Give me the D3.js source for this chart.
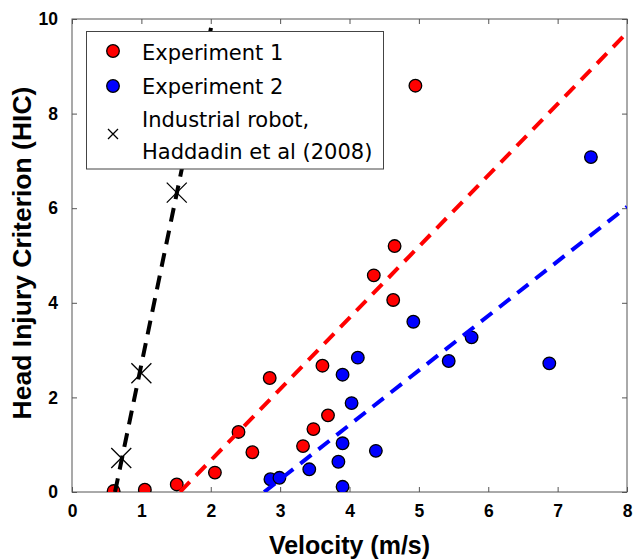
<!DOCTYPE html>
<html><head><meta charset="utf-8">
<script src="https://cdn.jsdelivr.net/npm/d3@7"></script>
<style>html,body{margin:0;padding:0;background:#fff;}</style>
</head><body>
<script>
// ---- data ----
const exp1Velocity = [0.60, 1.05, 1.51, 2.06, 2.40, 2.60, 2.85, 3.33, 3.48, 3.61, 3.69, 4.35, 4.63, 4.65, 4.95];
const exp1HIC      = [0.02, 0.05, 0.16, 0.41, 1.27, 0.84, 2.41, 0.97, 1.33, 2.67, 1.62, 4.58, 4.06, 5.20, 8.59];
const exp2Velocity = [2.86, 2.99, 3.42, 3.84, 3.90, 3.90, 3.90, 4.03, 4.12, 4.38, 4.92, 5.43, 5.76, 6.88, 7.48];
const exp2HIC      = [0.27, 0.30, 0.48, 0.64, 0.11, 1.03, 2.48, 1.88, 2.84, 0.87, 3.60, 2.77, 3.27, 2.72, 7.08];
const robotVelocity = [0.71, 1.00, 1.51];
const robotHIC      = [0.72, 2.51, 6.33];
const fit1Velocity = [1.556, 8.0];
const fit1HIC      = [0.0, 9.71];
const fit2Velocity = [2.77, 8.0];
const fit2HIC      = [0.0, 6.03];
const fitRobotVelocity = [0.62, 2.03];
const fitRobotHIC      = [0.0, 10.0];
const xTicks = [0, 1, 2, 3, 4, 5, 6, 7, 8];
const yTicks = [0, 2, 4, 6, 8, 10];
const legendLabels = ["Experiment 1", "Experiment 2", ["Industrial robot,", "Haddadin et al (2008)"]];
const xTitle = "Velocity (m/s)";
const yTitle = "Head Injury Criterion (HIC)";

// ---- layout ----
const W = 633, H = 560;
const L = 72, R = 627, T = 19, B = 492;
const svg = d3.select("body").append("svg").attr("width", W).attr("height", H)
  .style("font-family", "'Liberation Sans', Arial, sans-serif");
svg.append("rect").attr("width", W).attr("height", H).attr("fill", "#fff");

const x = d3.scaleLinear().domain([0, 8]).range([L, R]);
const y = d3.scaleLinear().domain([0, 10]).range([B, T]);
const axisColor = "#555";

svg.append("defs").append("clipPath").attr("id", "clip")
  .append("rect").attr("x", L).attr("y", T).attr("width", R - L).attr("height", B - T);

// axes
function styleAxis(g) {
  g.attr("font-family", "'Liberation Sans', Arial, sans-serif").attr("font-size", 17).attr("font-weight", "bold");
  g.select(".domain").remove();
  g.selectAll(".tick line").attr("stroke", axisColor).attr("stroke-width", 1);
  g.selectAll(".tick text").attr("fill", "#000").attr("font-weight", "bold").style("font-weight", "bold").style("font-size", "17.5px");
}
svg.append("g").attr("transform", `translate(0,${B})`)
  .call(d3.axisBottom(x).tickValues(xTicks).tickFormat(d3.format("d")).tickSizeInner(-5).tickSizeOuter(0).tickPadding(13))
  .call(styleAxis);
svg.append("g").attr("transform", `translate(0,${T})`)
  .call(d3.axisTop(x).tickValues(xTicks).tickFormat("").tickSizeInner(-5).tickSizeOuter(0))
  .call(styleAxis);
svg.append("g").attr("transform", `translate(${L},0)`)
  .call(d3.axisLeft(y).tickValues(yTicks).tickFormat(d3.format("d")).tickSizeInner(-5).tickSizeOuter(0).tickPadding(14))
  .call(styleAxis);
svg.append("g").attr("transform", `translate(${R},0)`)
  .call(d3.axisRight(y).tickValues(yTicks).tickFormat("").tickSizeInner(-5).tickSizeOuter(0))
  .call(styleAxis);
svg.append("rect").attr("x", L).attr("y", T).attr("width", R - L).attr("height", B - T)
  .attr("fill", "none").attr("stroke", axisColor).attr("stroke-width", 1);

// titles
svg.append("text").attr("x", (L + R) / 2).attr("y", 554).attr("text-anchor", "middle")
  .style("font-weight", "bold").style("font-size", "25px").text(xTitle);
svg.append("text").attr("transform", `translate(31,253) rotate(-90)`).attr("text-anchor", "middle")
  .style("font-weight", "bold").style("font-size", "26.5px").text(yTitle);

const plot = svg.append("g").attr("clip-path", "url(#clip)");

// points
function dots(vs, hs, color) {
  plot.append("g").selectAll("circle").data(vs.map((v, i) => [v, hs[i]])).join("circle")
    .attr("cx", d => x(d[0])).attr("cy", d => y(d[1])).attr("r", 6.3)
    .attr("fill", color).attr("stroke", "#000").attr("stroke-width", 1.3);
}
dots(exp1Velocity, exp1HIC, "#ff0000");
dots(exp2Velocity, exp2HIC, "#0000ff");

// X markers
const xs = 10;
plot.append("g").selectAll("path").data(robotVelocity.map((v, i) => [v, robotHIC[i]])).join("path")
  .attr("d", d => { const cx = x(d[0]), cy = y(d[1]);
    return `M${cx - xs},${cy - xs}L${cx + xs},${cy + xs}M${cx - xs},${cy + xs}L${cx + xs},${cy - xs}`; })
  .attr("stroke", "#000").attr("stroke-width", 1.3).attr("fill", "none");

// fit lines
const line = d3.line().x(d => x(d[0])).y(d => y(d[1]));
function fit(vs, hs, color) {
  plot.append("path").datum(vs.map((v, i) => [v, hs[i]])).attr("d", line)
    .attr("stroke", color).attr("stroke-width", 4).attr("fill", "none")
    .attr("stroke-dasharray", "14,9");
}
fit(fitRobotVelocity, fitRobotHIC, "#000");
fit(fit1Velocity, fit1HIC, "#ff0000");
fit(fit2Velocity, fit2HIC, "#0000ff");

// legend
const lg = svg.append("g").style("font-family", "'DejaVu Sans', Verdana, sans-serif").style("font-size", "21px");
lg.append("rect").attr("x", 86.5).attr("y", 31.5).attr("width", 297).attr("height", 137.5)
  .attr("fill", "#fff").attr("stroke", "#444").attr("stroke-width", 1);
lg.append("circle").attr("cx", 113).attr("cy", 51).attr("r", 6.3).attr("fill", "#ff0000").attr("stroke", "#000").attr("stroke-width", 1.3);
lg.append("circle").attr("cx", 113).attr("cy", 86).attr("r", 6.3).attr("fill", "#0000ff").attr("stroke", "#000").attr("stroke-width", 1.3);
lg.append("path").attr("d", "M108,129L118,139M108,139L118,129").attr("stroke", "#000").attr("stroke-width", 1.3);
lg.append("text").attr("x", 142).attr("y", 60).text(legendLabels[0]);
lg.append("text").attr("x", 142).attr("y", 94).text(legendLabels[1]);
lg.append("text").attr("x", 142).attr("y", 127).text(legendLabels[2][0]);
lg.append("text").attr("x", 142).attr("y", 158.5).text(legendLabels[2][1]);
</script>
</body></html>
